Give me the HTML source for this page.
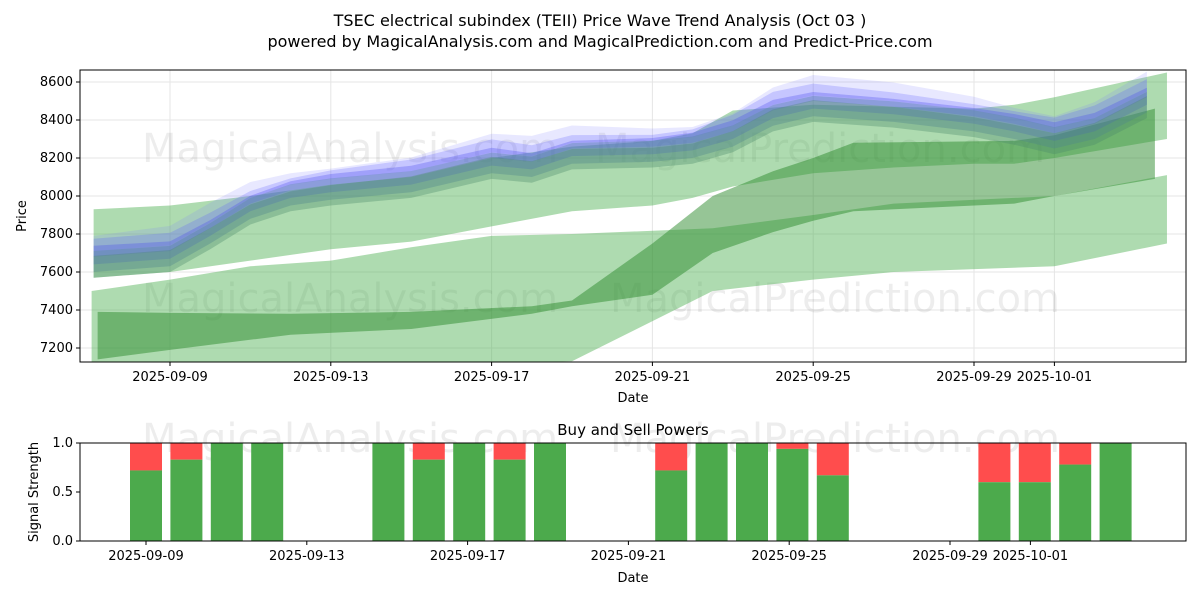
<!DOCTYPE html>
<html><head><meta charset="utf-8"><style>
body{margin:0;background:#fff;font-family:"Liberation Sans","DejaVu Sans",sans-serif;}
svg text{font-family:"DejaVu Sans","Liberation Sans",sans-serif;}
</style></head><body>
<svg id="c" width="1200" height="600" xmlns="http://www.w3.org/2000/svg">
<text x="600" y="26" font-size="16" text-anchor="middle">TSEC electrical subindex (TEII) Price Wave Trend Analysis (Oct 03 )</text>
<text x="600" y="47" font-size="16" text-anchor="middle">powered by MagicalAnalysis.com and MagicalPrediction.com and Predict-Price.com</text>
<g id="topPanel"></g>
<g id="botPanel"></g>
</svg>
<script>
const dateLabels=["2025-09-09","2025-09-13","2025-09-17","2025-09-21","2025-09-25","2025-09-29","2025-10-01"];
const dateTickDays=[0,4,8,12,16,20,22];
const priceTicks=[7200,7400,7600,7800,8000,8200,8400,8600];
const b1Days=[-1.9,0,2,4,6,8,10,12,13,14,16,18,20,21,22,24.8];
const b1Upper=[7930,7950,8000,8060,8100,8200,8260,8290,8330,8450,8480,8470,8460,8480,8520,8650];
const b1Lower=[7570,7600,7660,7720,7760,7840,7920,7950,7990,8050,8120,8150,8170,8170,8200,8300];
const b2Days=[-1.95,0,2,4,6,8,10,13.5,16,18,22,24.8];
const b2Upper=[7500,7560,7630,7660,7730,7790,7800,7830,7900,7960,8000,8110];
const b2Lower=[7000,7050,7080,7100,7110,7120,7130,7500,7560,7600,7630,7750];
const b3Days=[-1.8,0,3,6,9,10,12,13.5,15,16,17,21,22,24.5];
const b3Upper=[7390,7385,7380,7390,7420,7450,7750,8000,8130,8200,8280,8290,8320,8460];
const b3Lower=[7140,7190,7270,7300,7380,7420,7480,7700,7810,7870,7920,7960,8000,8090];
const trendDays=[-1.9,0,1,2,3,4,6,8,9,10,12,13,14,15,16,18,20,21,22,23,24.3];
const trendVals=[7700,7730,7850,7980,8050,8080,8120,8220,8200,8270,8280,8300,8360,8470,8520,8490,8440,8400,8350,8400,8540];
const sigDays=[0,1,2,3,6,7,8,9,10,13,14,15,16,17,21,22,23,24];
const buyVals=[0.72,0.83,1,1,1,0.83,1,0.83,1,0.72,1,1,0.94,0.67,0.6,0.6,0.78,1];
const NS="http://www.w3.org/2000/svg";
function mk(p,t,a){const e=document.createElementNS(NS,t);for(const k in a)e.setAttribute(k,a[k]);p.appendChild(e);return e;}
const L=80,R=1186,T=70,B=362;
const xT=d=>170+d*40.2, yT=v=>82+(8600-v)*0.19;
const xB=d=>146+d*40.4, yB=v=>541-v*98;
const topG=document.getElementById('topPanel'), botG=document.getElementById('botPanel');
const defs=mk(topG,'defs',{});const cp=mk(defs,'clipPath',{id:'cp'});mk(cp,'rect',{x:L,y:T,width:R-L,height:B-T});
priceTicks.forEach(v=>{const l=mk(topG,'line',{x1:L,x2:R,y1:yT(v),y2:yT(v),stroke:'#e5e5e5'});

});
dateTickDays.forEach(d=>{const l=mk(topG,'line',{x1:xT(d),x2:xT(d),y1:T,y2:B,stroke:'#e5e5e5'});

});
[[350,150],[820,150],[350,300],[835,300]].forEach((p,i)=>{const t=mk(topG,'text',{x:p[0],y:p[1]+12,'font-size':40,'text-anchor':'middle',fill:'#000','fill-opacity':0.07});t.textContent=i%2?'MagicalPrediction.com':'MagicalAnalysis.com';

});
const g=mk(topG,'g',{'clip-path':'url(#cp)'});
function band(days,up,lo,fill,op,name){let pts=days.map((d,i)=>xT(d)+','+yT(up[i]));
for(let i=days.length-1;i>=0;i--)pts.push(xT(days[i])+','+yT(lo[i]));
const p=mk(g,'polygon',{points:pts.join(' '),fill:fill,'fill-opacity':op});

}
band(b2Days,b2Upper,b2Lower,'#4caf50',0.45,'prediction-band-low');
band(b1Days,b1Upper,b1Lower,'#4caf50',0.45,'prediction-band-mid');
band(b3Days,b3Upper,b3Lower,'#2e8b2e',0.5,'prediction-band-dark');
const offs=[[90,10,'#8080ff',0.18],[60,-20,'#6060ff',0.25],[30,-60,'#4a4af0',0.3],[10,-100,'#5080a0',0.35],[-20,-130,'#4a8a6a',0.35]];
offs.forEach((o,k)=>band(trendDays,trendVals.map((v,i)=>v+o[0]*(1+0.3*Math.sin(i+k))),trendVals.map(v=>v+o[1]),o[2],o[3],'wave-band'));
mk(topG,'rect',{x:L,y:T,width:R-L,height:B-T,fill:'none',stroke:'#000'});
priceTicks.forEach(v=>{mk(topG,'line',{x1:L-4,x2:L,y1:yT(v),y2:yT(v),stroke:'#000'});
const t=mk(topG,'text',{x:L-7,y:yT(v)+4,'font-size':13,'text-anchor':'end'});t.textContent=v;

});
dateTickDays.forEach((d,i)=>{mk(topG,'line',{x1:xT(d),x2:xT(d),y1:B,y2:B+4,stroke:'#000'});
const t=mk(topG,'text',{x:xT(d),y:B+19,'font-size':13,'text-anchor':'middle'});t.textContent=dateLabels[i];

});
let t=mk(topG,'text',{x:633,y:402,'font-size':13,'text-anchor':'middle'});t.textContent='Date';


t=mk(topG,'text',{x:26,y:216,'font-size':13,'text-anchor':'middle',transform:'rotate(-90 26 216)'});t.textContent='Price';


const BT=443,BB=541;
[[350,440],[835,440]].forEach((p,i)=>{const w=mk(botG,'text',{x:p[0],y:p[1]+12,'font-size':40,'text-anchor':'middle',fill:'#000','fill-opacity':0.07});w.textContent=i?'MagicalPrediction.com':'MagicalAnalysis.com';

});
sigDays.forEach((d,i)=>{const x=xB(d)-16;
const r=mk(botG,'rect',{x:x,y:yB(1),width:32,height:yB(buyVals[i])-yB(1),fill:'#ff4d4d'});


const gb=mk(botG,'rect',{x:x,y:yB(buyVals[i]),width:32,height:BB-yB(buyVals[i]),fill:'#4caa4c'});

});
mk(botG,'rect',{x:L,y:BT,width:R-L,height:BB-BT,fill:'none',stroke:'#000'});
[0,0.5,1].forEach(v=>{mk(botG,'line',{x1:L-4,x2:L,y1:yB(v),y2:yB(v),stroke:'#000'});
const s=mk(botG,'text',{x:L-7,y:yB(v)+4,'font-size':13,'text-anchor':'end'});s.textContent=v.toFixed(1);

});
dateTickDays.forEach((d,i)=>{const xx=146+d*40.2;mk(botG,'line',{x1:xx,x2:xx,y1:BB,y2:BB+4,stroke:'#000'});
const s=mk(botG,'text',{x:xx,y:BB+19,'font-size':13,'text-anchor':'middle'});s.textContent=dateLabels[i];

});
t=mk(botG,'text',{x:633,y:435,'font-size':15,'text-anchor':'middle'});t.textContent='Buy and Sell Powers';


t=mk(botG,'text',{x:633,y:582,'font-size':13,'text-anchor':'middle'});t.textContent='Date';


t=mk(botG,'text',{x:38,y:492,'font-size':13,'text-anchor':'middle',transform:'rotate(-90 38 492)'});t.textContent='Signal Strength';


</script>
</body></html>
